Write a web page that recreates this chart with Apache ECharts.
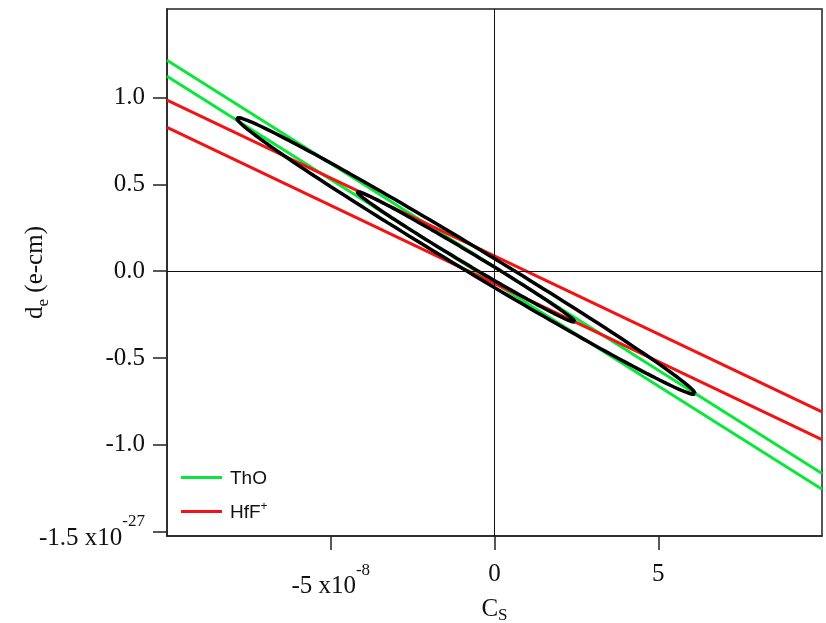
<!DOCTYPE html>
<html>
<head>
<meta charset="utf-8">
<script src="https://cdn.jsdelivr.net/npm/echarts@6/dist/echarts.min.js"></script>
<style>
html,body{margin:0;padding:0;background:#fff;}
#chart{width:826px;height:623px;}
</style>
</head>
<body>
<div id="chart"></div>
<script>
// ---- data (x in units of 1e-8, y in units of 1e-27 e-cm) ----
const lineX = [-10, 10];
const thoUpperY = [1.215, -1.165];
const thoLowerY = [1.123, -1.256];
const hfUpperY = [0.985, -0.81];
const hfLowerY = [0.828, -0.97];
// ellipses: tip points and vertical half-height at the centre
const bigEllipseTips = [[-7.87, 0.88], [6.13, -0.705]];
const bigEllipseHalfHeight = 0.084;
const smallEllipseTips = [[-4.20, 0.457], [2.46, -0.292]];
const smallEllipseHalfHeight = 0.040;
const xTicks = [-5, 0, 5];
const yTicks = [-1.5, -1.0, -0.5, 0.0, 0.5, 1.0];
const xTickLabels = {'-5': '{m|-5 x10}{sup|-8}', '0': '0', '5': '5'};
const yTickLabels = {'-1.5': '{z| }{m|-1.5 x10}{sup|-27}', '-1': '-1.0', '-0.5': '-0.5', '0': '0.0', '0.5': '0.5', '1': '1.0'};
const legendNames = ['ThO', 'HfF+'];

function ellipse(tips, hh, n) {
  const cx = (tips[0][0] + tips[1][0]) / 2, cy = (tips[0][1] + tips[1][1]) / 2;
  const ax = tips[1][0] - cx, ay = tips[1][1] - cy;
  const pts = [];
  for (let i = 0; i <= n; i++) {
    const t = 2 * Math.PI * i / n;
    pts.push([cx + ax * Math.cos(t), cy + ay * Math.cos(t) + hh * Math.sin(t)]);
  }
  return pts;
}
const pair = (ys) => lineX.map((x, i) => [x, ys[i]]);

const GREEN = '#0be63c', RED = '#f21414';
const serif = 'Liberation Serif';
const T = (size, lh, va) => ({fontFamily: serif, fontSize: size, color: '#111', lineHeight: lh, verticalAlign: va});

const chart = echarts.init(document.getElementById('chart'));
chart.setOption({
  animation: false,
  backgroundColor: '#fff',
  grid: {left: 167, right: 4, top: 9, bottom: 87, show: true, borderColor: '#222', borderWidth: 1.5,
    backgroundColor: 'transparent', containLabel: false, outerBoundsMode: 'none'},
  legend: {
    data: legendNames, orient: 'vertical', left: 181, top: 469, padding: 0,
    icon: 'rect', itemWidth: 41, itemHeight: 3, itemGap: 13,
    textStyle: {fontFamily: 'Liberation Sans', fontSize: 19, color: '#111',
      rich: {n: {fontFamily: 'Liberation Sans', fontSize: 19, color: '#111', lineHeight: 21, verticalAlign: 'bottom', padding: [0, 0, 0, 3]},
             sup: {fontFamily: 'Liberation Sans', fontSize: 12, color: '#111', lineHeight: 12, verticalAlign: 'top'}}},
    formatter: (name) => name === 'HfF+' ? '{n|HfF}{sup|+}' : '{n|' + name + '}'
  },
  xAxis: {
    type: 'value', min: -10, max: 10,
    axisLine: {onZero: false, lineStyle: {color: '#222', width: 1.5}},
    axisTick: {customValues: xTicks, length: 14, lineStyle: {color: '#222', width: 1.5}},
    axisLabel: {customValues: xTicks, margin: 26, fontFamily: serif, fontSize: 25, color: '#111', lineHeight: 25,
      formatter: (v) => xTickLabels[String(v)],
      rich: {m: T(25, 37, 'bottom'), sup: T(17, 17, 'top')}},
    splitLine: {show: false},
    name: '{c|C}{s|S}', nameLocation: 'middle', nameGap: 61, nameMoveOverlap: false,
    nameTextStyle: {rich: {c: T(25, 25, 'top'), s: T(17, 27, 'bottom')}}
  },
  yAxis: {
    type: 'value', min: -1.525, max: 1.51,
    axisLine: {onZero: false, lineStyle: {color: '#222', width: 1.5}},
    axisTick: {customValues: yTicks, length: 14, lineStyle: {color: '#222', width: 1.5}},
    axisLabel: {customValues: yTicks, margin: 22, fontFamily: serif, fontSize: 25, color: '#111', lineHeight: 25,
      formatter: (v) => yTickLabels[String(v)],
      rich: {z: {fontSize: 1, lineHeight: 38, verticalAlign: 'middle'}, m: T(25, 26, 'bottom'), sup: T(17, 22, 'top')}},
    splitLine: {show: false},
    name: '{d|d}{e|e}{d| (e-cm)}', nameLocation: 'middle', nameGap: 115, nameRotate: 90, nameMoveOverlap: false,
    nameTextStyle: {rich: {d: T(25, 25, 'top'), e: T(17, 29, 'bottom')}}
  },
  series: [
    {type: 'line', name: 'ThO', data: pair(thoUpperY), symbol: 'none', color: GREEN, lineStyle: {color: GREEN, width: 3}, z: 3,
      markLine: {silent: true, symbol: 'none', label: {show: false}, lineStyle: {color: '#111', width: 1, type: 'solid'},
        data: [{xAxis: 0}, {yAxis: 0}]}},
    {type: 'line', name: 'ThO', data: pair(thoLowerY), symbol: 'none', color: GREEN, lineStyle: {color: GREEN, width: 3}, z: 3},
    {type: 'line', name: 'HfF+', data: pair(hfUpperY), symbol: 'none', color: RED, lineStyle: {color: RED, width: 3}, z: 3},
    {type: 'line', name: 'HfF+', data: pair(hfLowerY), symbol: 'none', color: RED, lineStyle: {color: RED, width: 3}, z: 3},
    {type: 'line', name: 'big', data: ellipse(bigEllipseTips, bigEllipseHalfHeight, 200), symbol: 'none', lineStyle: {color: '#000', width: 3.5}, z: 4},
    {type: 'line', name: 'small', data: ellipse(smallEllipseTips, smallEllipseHalfHeight, 200), symbol: 'none', lineStyle: {color: '#000', width: 3.5}, z: 4}
  ]
});
</script>
</body>
</html>
